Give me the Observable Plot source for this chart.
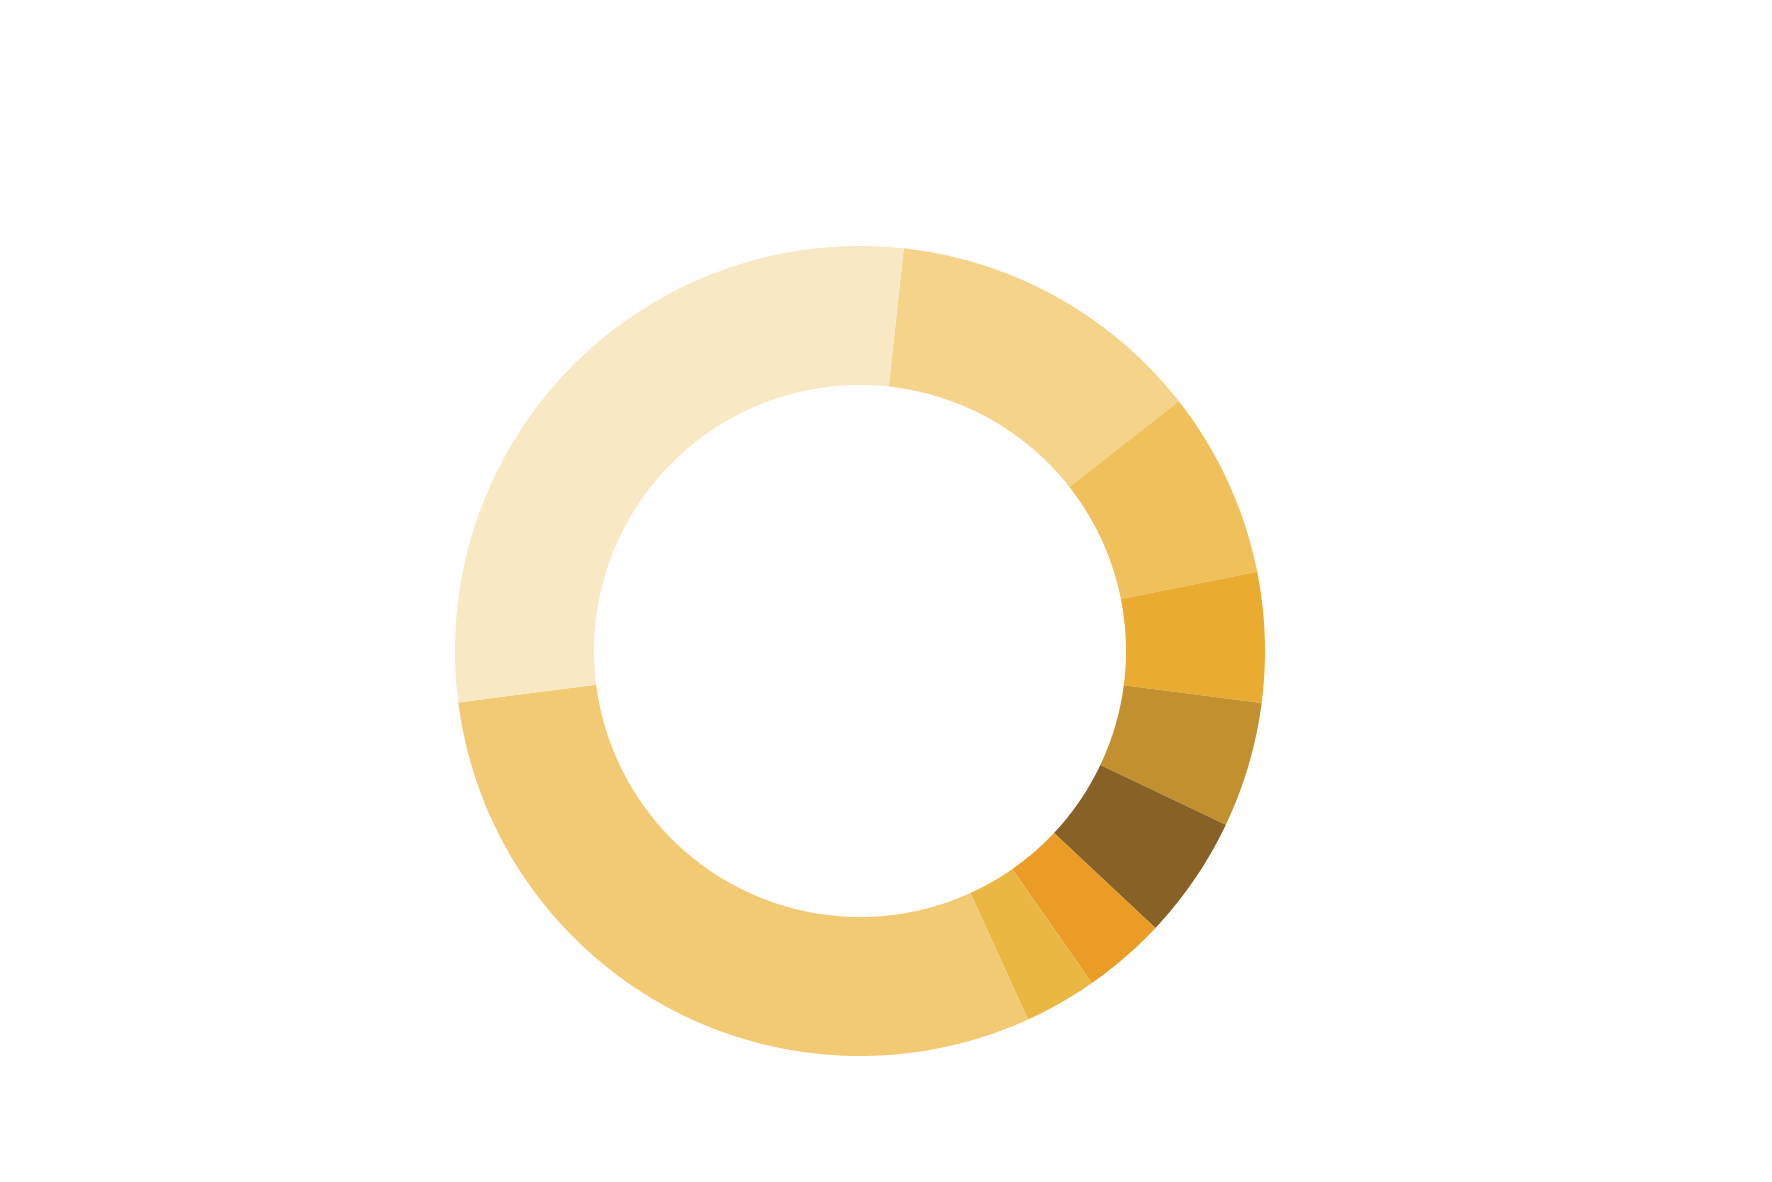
<!DOCTYPE html>
<html>
<head>
<meta charset="utf-8">
<script src="https://cdn.jsdelivr.net/npm/d3@7"></script>
<script src="https://cdn.jsdelivr.net/npm/@observablehq/plot@0.6"></script>
<style>
  html, body { margin: 0; padding: 0; background: #ffffff; }
  #chart svg { display: block; }
</style>
</head>
<body>
<div id="chart"></div>
<script>
// ---- data ----
const categories = ["Slice 1", "Slice 2", "Slice 3", "Slice 4", "Slice 5", "Slice 6", "Slice 7", "Slice 8", "Slice 9"];
const values = [12.7, 7.44, 5.19, 5.0, 4.94, 3.31, 2.89, 29.78, 28.75];
const palette = ["#F6D38A", "#F0C05B", "#EAAB31", "#C2902E", "#886127", "#EB9C26", "#EBB743", "#F2CA73", "#F8E8C4"];

// ---- layout ----
const W = 1772, H = 1182;
const cx = 860, cy = 651, Rpx = 405;
const innerRatio = 266 / 405;
const startDeg = 6.2;

const pie = d3.pie().sort(null).value(d => d.value)
  .startAngle(startDeg * Math.PI / 180)
  .endAngle((startDeg + 360) * Math.PI / 180);
const arcs = pie(categories.map((c, i) => ({category: c, value: values[i]})));

const pts = [];
for (const a of arcs) {
  const n = Math.max(8, Math.ceil((a.endAngle - a.startAngle) / (Math.PI / 360)));
  for (let k = 0; k <= n; k++) {
    const t = a.startAngle + (a.endAngle - a.startAngle) * k / n;
    pts.push({
      category: a.data.category,
      x1: Math.sin(t), y1: Math.cos(t),
      x2: innerRatio * Math.sin(t), y2: innerRatio * Math.cos(t)
    });
  }
}

const chart = Plot.plot({
  width: W,
  height: H,
  margin: 0,
  x: {domain: [-cx / Rpx, (W - cx) / Rpx], range: [0, W], axis: null},
  y: {domain: [-(H - cy) / Rpx, cy / Rpx], range: [H, 0], axis: null},
  color: {type: "ordinal", domain: categories, range: palette},
  style: {background: "#ffffff"},
  marks: [
    Plot.area(pts, {x1: "x1", y1: "y1", x2: "x2", y2: "y2", z: "category", fill: "category"})
  ]
});
document.getElementById("chart").appendChild(chart);
</script>
</body>
</html>
